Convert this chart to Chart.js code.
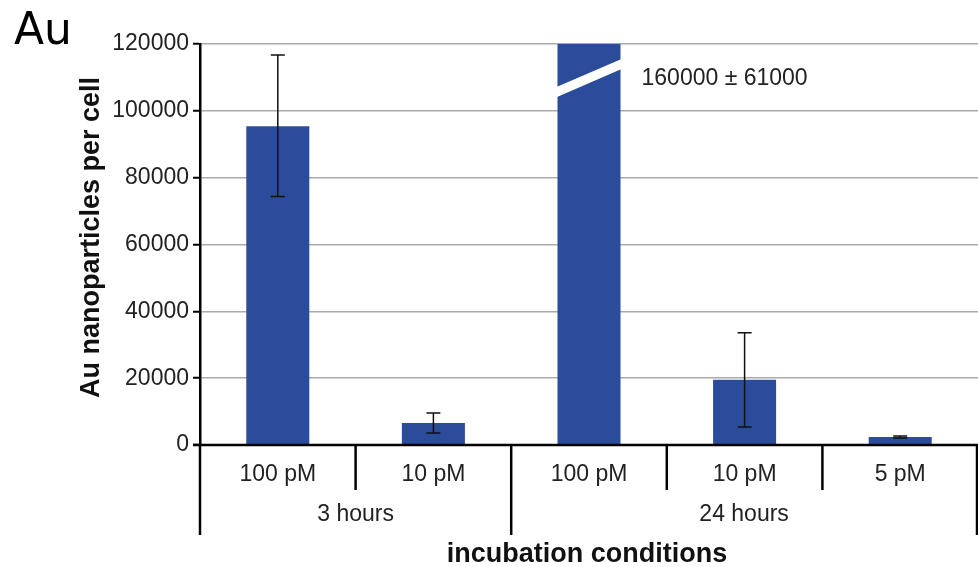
<!DOCTYPE html>
<html>
<head>
<meta charset="utf-8">
<script src="https://cdn.jsdelivr.net/npm/chart.js@4.4.1/dist/chart.umd.min.js"></script>
<style>
  html, body { margin: 0; padding: 0; background: #fff; }
  #wrap { width: 978px; height: 567px; position: relative; }
</style>
</head>
<body>
<div id="wrap"><canvas id="chart" width="978" height="567"></canvas></div>
<script>
const CONCENTRATIONS = ["100 pM", "10 pM", "100 pM", "10 pM", "5 pM"];
const GROUPS = ["3 hours", "24 hours"];
const GROUP_SIZES = [2, 3];
const MEANS = [95400, 6600, 160000, 19500, 2400];
const ERR_HIGH = [116700, 9600, null, 33600, 2700];
const ERR_LOW = [74400, 3600, null, 5400, 2100];
const Y_TICKS = [0, 20000, 40000, 60000, 80000, 100000, 120000];

// broken bar: white slash across the clipped bar (values at left / right bar edge)
const BREAK_INDEX = 2;
const BREAK_LOW = [104100, 112500];
const BREAK_HIGH = [107100, 115500];
const BREAK_LABEL = "160000 \u00B1 61000";
const BREAK_LABEL_VALUE = 109500;

const BAR_COLOR = "#2b4c9a";
const TEXT = "#222";
const FONT = "'Liberation Sans', Arial, sans-serif";

const extras = {
  id: "extras",
  afterDatasetsDraw(chart) {
    const { ctx, chartArea, scales } = chart;
    const x = scales.x, y = scales.y;
    const bars = chart.getDatasetMeta(0).data;
    ctx.save();

    // error bars
    ctx.strokeStyle = "#111";
    ctx.lineWidth = 1.5;
    MEANS.forEach((_, i) => {
      if (ERR_HIGH[i] == null) return;
      const cx = bars[i].x;
      const yh = y.getPixelForValue(ERR_HIGH[i]);
      const yl = y.getPixelForValue(ERR_LOW[i]);
      const cap = 7;
      ctx.beginPath();
      ctx.moveTo(cx, yh); ctx.lineTo(cx, yl);
      ctx.moveTo(cx - cap, yh); ctx.lineTo(cx + cap, yh);
      ctx.moveTo(cx - cap, yl); ctx.lineTo(cx + cap, yl);
      ctx.stroke();
    });

    // axis break on the tall bar
    const b = bars[BREAK_INDEX];
    const l = b.x - b.width / 2 - 1, r = b.x + b.width / 2 + 1;
    ctx.fillStyle = "#fff";
    ctx.beginPath();
    ctx.moveTo(l, y.getPixelForValue(BREAK_LOW[0]));
    ctx.lineTo(l, y.getPixelForValue(BREAK_HIGH[0]));
    ctx.lineTo(r, y.getPixelForValue(BREAK_HIGH[1]));
    ctx.lineTo(r, y.getPixelForValue(BREAK_LOW[1]));
    ctx.closePath();
    ctx.fill();

    ctx.fillStyle = TEXT;
    ctx.font = "23px " + FONT;
    ctx.textAlign = "left";
    ctx.textBaseline = "middle";
    ctx.fillText(BREAK_LABEL, r + 20, y.getPixelForValue(BREAK_LABEL_VALUE));

    // x axis line
    ctx.strokeStyle = "#000";
    ctx.lineWidth = 2.5;
    ctx.beginPath();
    ctx.moveTo(chartArea.left - 7, chartArea.bottom);
    ctx.lineTo(chartArea.right, chartArea.bottom);
    ctx.stroke();

    // category table below axis
    const n = CONCENTRATIONS.length;
    const edge = (k) => {
      if (k === 0) return chartArea.left;
      if (k === n) return chartArea.right - 1;
      return (x.getPixelForValue(k - 1) + x.getPixelForValue(k)) / 2;
    };
    const groupEdges = [0];
    GROUP_SIZES.forEach((s) => groupEdges.push(groupEdges[groupEdges.length - 1] + s));
    ctx.lineWidth = 2.5;
    for (let k = 0; k <= n; k++) {
      const long = groupEdges.includes(k);
      const px = edge(k);
      ctx.beginPath();
      ctx.moveTo(px, chartArea.bottom);
      ctx.lineTo(px, chartArea.bottom + (long ? 90 : 45));
      ctx.stroke();
    }

    ctx.fillStyle = TEXT;
    ctx.font = "23px " + FONT;
    ctx.textAlign = "center";
    CONCENTRATIONS.forEach((c, i) => {
      ctx.fillText(c, x.getPixelForValue(i), chartArea.bottom + 30);
    });
    GROUPS.forEach((g, gi) => {
      const cx = (edge(groupEdges[gi]) + edge(groupEdges[gi + 1])) / 2;
      ctx.fillText(g, cx, chartArea.bottom + 70);
    });

    ctx.fillStyle = "#111";
    ctx.font = "bold 27px " + FONT;
    ctx.fillText("incubation conditions", (chartArea.left + chartArea.right) / 2 - 2, chartArea.bottom + 110);

    // y axis title
    ctx.save();
    ctx.translate(92, (chartArea.top + chartArea.bottom) / 2 - 7);
    ctx.rotate(-Math.PI / 2);
    ctx.fillText("Au nanoparticles per cell", 0, 0);
    ctx.restore();

    // panel letter
    ctx.fillStyle = "#000";
    ctx.font = "44px 'DejaVu Sans', sans-serif";
    ctx.textAlign = "left";
    ctx.textBaseline = "alphabetic";
    ctx.fillText("Au", 14, 44);

    ctx.restore();
  },
};

new Chart(document.getElementById("chart"), {
  type: "bar",
  data: {
    labels: CONCENTRATIONS,
    datasets: [{
      data: MEANS,
      backgroundColor: BAR_COLOR,
      borderWidth: 0,
      barPercentage: 0.405,
      categoryPercentage: 1,
    }],
  },
  options: {
    responsive: false,
    animation: false,
    events: [],
    layout: { padding: { top: 44, bottom: 122, left: 0, right: 0 } },
    plugins: { legend: { display: false }, tooltip: { enabled: false } },
    scales: {
      x: { display: false },
      y: {
        min: 0,
        max: 120000,
        afterFit: (scale) => { scale.width = 200; },
        afterBuildTicks: (scale) => { scale.ticks = Y_TICKS.map((v) => ({ value: v })); },
        ticks: {
          color: TEXT,
          font: { family: FONT, size: 23 },
          padding: 4,
          callback: (v) => String(v),
        },
        grid: { color: "#aaa", lineWidth: 1.5, tickColor: "#000", tickLength: 7, tickWidth: 2 },
        border: { display: true, color: "#000", width: 2.5 },
      },
    },
  },
  plugins: [extras],
});
</script>
</body>
</html>
